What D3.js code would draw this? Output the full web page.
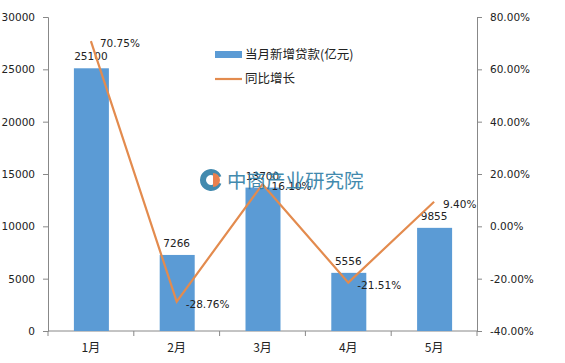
<!DOCTYPE html>
<html>
<head>
<meta charset="utf-8">
<script src="https://d3js.org/d3.v7.min.js"></script>
<style>
  body { margin: 0; background: #fff; }
  text { font-family: 'DejaVu Sans', sans-serif; font-size: 10px; fill: #222; }
  .cjk { font-family: 'Noto Sans CJK SC', sans-serif; }
  .axis path, .axis line { stroke: #888; }
</style>
</head>
<body>
<script>
  // chart data
  var months = ['1月', '2月', '3月', '4月', '5月'];
  var loans = [25100, 7266, 13700, 5556, 9855];
  var growth = [70.75, -28.76, 16.10, -21.51, 9.40];
  var leftTicks = [0, 5000, 10000, 15000, 20000, 25000, 30000];
  var rightTicks = [-40, -20, 0, 20, 40, 60, 80];

  var W = 565, H = 363;
  var m = { top: 17, right: 88, bottom: 32, left: 48 };
  var w = W - m.left - m.right, h = H - m.top - m.bottom;

  var svg = d3.select('body').append('svg')
    .attr('width', W).attr('height', H);
  var g = svg.append('g').attr('transform', `translate(${m.left},${m.top})`);

  var xb = d3.scaleBand().domain(months).range([0, w]);
  var y = d3.scaleLinear().domain([0, 30000]).range([h, 0]);
  var y2 = d3.scaleLinear().domain([-40, 80]).range([h, 0]);

  // left axis
  g.append('g').attr('class', 'axis')
    .call(d3.axisLeft(y).tickValues(leftTicks).tickSize(5).tickPadding(8).tickSizeOuter(5)
      .tickFormat(d3.format('d')))
    .selectAll('text').style('font-size', '10.5px');

  // right axis
  g.append('g').attr('class', 'axis')
    .attr('transform', `translate(${w},0)`)
    .call(d3.axisRight(y2).tickValues(rightTicks).tickSize(5).tickPadding(8).tickSizeOuter(5)
      .tickFormat(d => d.toFixed(2) + '%'))
    .selectAll('text').style('font-size', '10.5px');

  // bottom axis: ticks at category boundaries
  var xAxis = g.append('g').attr('class', 'axis').attr('transform', `translate(0,${h})`);
  xAxis.append('line').attr('x1', 0).attr('x2', w).attr('stroke', '#888');
  xAxis.selectAll('.tk').data(months).enter().append('line')
    .attr('x1', d => xb(d) + xb.bandwidth()).attr('x2', d => xb(d) + xb.bandwidth())
    .attr('y1', 0).attr('y2', 5).attr('stroke', '#888');
  xAxis.append('line').attr('x1', 0).attr('x2', 0).attr('y1', 0).attr('y2', 5).attr('stroke', '#888');
  xAxis.selectAll('.lb').data(months).enter().append('text')
    .attr('class', 'cjk')
    .attr('x', d => xb(d) + xb.bandwidth() / 2)
    .attr('y', 21)
    .attr('text-anchor', 'middle')
    .style('font-size', '12px')
    .text(d => d);

  // bars
  g.selectAll('.bar').data(loans).enter().append('rect')
    .attr('x', (d, i) => xb(months[i]) + xb.bandwidth() / 2 - 17)
    .attr('width', 35)
    .attr('y', d => y(d))
    .attr('height', d => h - y(d))
    .attr('fill', '#5B9BD5');

  // watermark logo + name
  var wm = svg.append('g').attr('opacity', 0.9);
  wm.append('path')
    .attr('d', d3.arc()({ innerRadius: 5, outerRadius: 11, startAngle: 0.35, endAngle: 2 * Math.PI - 0.35 }))
    .attr('transform', 'translate(211,180) rotate(90)')
    .attr('fill', '#2E7EA6');
  wm.append('path')
    .attr('d', d3.arc()({ innerRadius: 0, outerRadius: 7, startAngle: 0, endAngle: Math.PI }))
    .attr('transform', 'translate(213,180)')
    .attr('fill', '#E8733A');
  wm.append('text').attr('class', 'cjk').attr('x', 227).attr('y', 188)
    .style('font-size', '19.5px').style('fill', '#2E7EA6').text('中商产业研究院');

  // bar labels
  g.selectAll('.bl').data(loans).enter().append('text')
    .attr('x', (d, i) => xb(months[i]) + xb.bandwidth() / 2)
    .attr('y', d => y(d) - 8)
    .attr('text-anchor', 'middle')
    .style('font-size', '10.5px')
    .text(d => d);

  // line
  var line = d3.line()
    .x((d, i) => xb(months[i]) + xb.bandwidth() / 2)
    .y(d => y2(d));
  g.append('path').datum(growth)
    .attr('d', line)
    .attr('fill', 'none')
    .attr('stroke', '#E38B4E')
    .attr('stroke-width', 2.2);

  // line labels
  g.selectAll('.ll').data(growth).enter().append('text')
    .attr('x', (d, i) => xb(months[i]) + xb.bandwidth() / 2 + 9)
    .attr('y', d => y2(d) + 6)
    .style('font-size', '10.5px')
    .text(d => d.toFixed(2) + '%');

  // legend
  var lg = svg.append('g');
  lg.append('rect').attr('x', 215).attr('y', 51).attr('width', 27).attr('height', 7).attr('fill', '#5B9BD5');
  lg.append('text').attr('class', 'cjk').attr('x', 245).attr('y', 59)
    .style('font-size', '12.5px').text('当月新增贷款(亿元)');
  lg.append('line').attr('x1', 215).attr('x2', 242).attr('y1', 79).attr('y2', 79)
    .attr('stroke', '#E38B4E').attr('stroke-width', 2.2);
  lg.append('text').attr('class', 'cjk').attr('x', 245).attr('y', 83)
    .style('font-size', '12.5px').text('同比增长');
</script>
</body>
</html>
